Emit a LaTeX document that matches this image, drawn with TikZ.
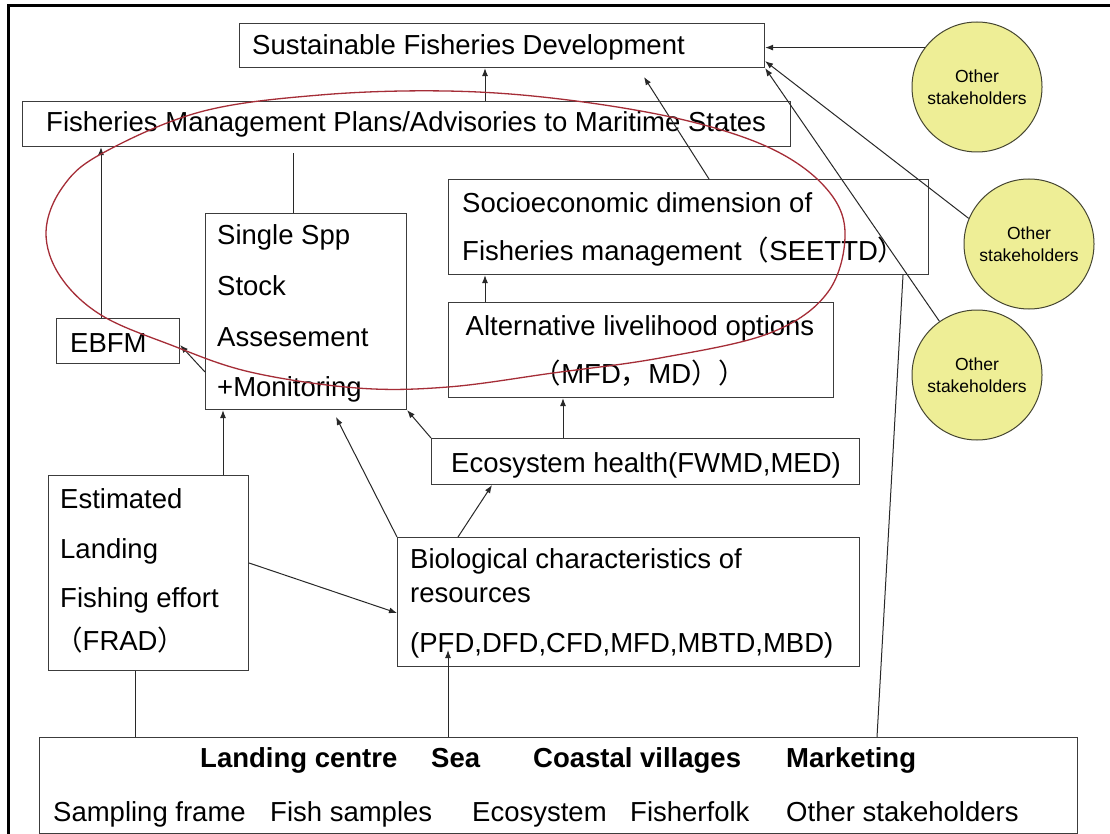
\documentclass[tikz,border=0pt]{standalone}
\usepackage{fontspec}
\setmainfont{Liberation Sans}
\newfontfamily\cjkfont{Noto Sans CJK SC}
\usetikzlibrary{arrows.meta}
\newcommand{\fwlp}{{\cjkfont （}}
\newcommand{\fwrp}{{\cjkfont ）}}
\newcommand{\fwcm}{{\cjkfont ，}}
\definecolor{boxgray}{RGB}{60,60,60}
\definecolor{linegray}{RGB}{40,40,40}
\definecolor{circfill}{RGB}{238,238,150}
\definecolor{circedge}{RGB}{70,70,50}
\definecolor{ellred}{RGB}{165,45,55}
\begin{document}
\begin{tikzpicture}[x=1pt,y=-1pt,
  box/.style={draw=boxgray, line width=1.1pt, inner sep=0pt, anchor=north west},
  lbl/.style={inner sep=0pt, anchor=base west, font=\fontsize{27.5}{33}\selectfont, text=black},
  clbl/.style={lbl, anchor=base},
  blbl/.style={lbl, font=\fontsize{27.5}{33}\selectfont\bfseries},
  conn/.style={draw=linegray, line width=1pt},
  arr/.style={conn, -{Latex[length=8pt,width=6pt]}},
  circ/.style={circle, draw=circedge, fill=circfill, line width=1pt, minimum size=130pt, inner sep=0pt, align=center, font=\fontsize{17.5}{21.5}\selectfont},
  ellip/.style={draw=ellred, line width=1.3pt},
  frame/.style={draw=black, line width=3pt}
]
\useasboundingbox (0,0) rectangle (1110,834);
\fill[white] (0,0) rectangle (1110,834);
\draw[frame] (8,834) -- (8,6) -- (1110,6);

% helper x / y coordinates
\coordinate (x101) at (101,0);
\coordinate (x135) at (135,0);
\coordinate (x223) at (223,0);
\coordinate (x293) at (293,0);
\coordinate (x448) at (448,0);
\coordinate (x458) at (458,0);
\coordinate (x485) at (485,0);
\coordinate (x492) at (492,0);
\coordinate (x563) at (563,0);
\coordinate (x709) at (709,0);
\coordinate (x877) at (877,0);
\coordinate (x903) at (903,0);
\coordinate (y345) at (0,345);
\coordinate (y372) at (0,372);
\coordinate (y563) at (0,563);
\coordinate (y613) at (0,613);
\coordinate (tipsoc) at (644,77);
\coordinate (tipbio) at (336,417);
\coordinate (tipbot) at (448,650);
\coordinate (sspline) at (293,153);

% boxes
\node[box, minimum width=525pt, minimum height=44pt] (sfd) at (239,23) {};
\node[box, minimum width=768pt, minimum height=45pt] (fm) at (22,101) {};
\node[box, minimum width=201pt, minimum height=196pt] (ssp) at (205,213) {};
\node[box, minimum width=123pt, minimum height=45pt] (ebfm) at (56,318) {};
\node[box, minimum width=480pt, minimum height=95pt] (soc) at (448,179) {};
\node[box, minimum width=385pt, minimum height=95pt] (alt) at (448,302) {};
\node[box, minimum width=428pt, minimum height=46pt] (eco) at (431,438) {};
\node[box, minimum width=462pt, minimum height=129pt] (bio) at (397,537) {};
\node[box, minimum width=200pt, minimum height=195pt] (est) at (48,475) {};
\node[box, minimum width=1038pt, minimum height=96pt] (bot) at (39,737) {};

% circles
\node[circ] (c1) at (977,87) {Other\\stakeholders};
\node[circ] (c2) at (1029,244) {Other\\stakeholders};
\node[circ] (c3) at (977,375) {Other\\stakeholders};

% texts
\node[lbl] (tsfd) at (252,55) {Sustainable Fisheries Development};
\node[lbl] (tfm) at (46,132) {Fisheries Management Plans/Advisories to Maritime States};
\node[lbl] (tssp1) at (217,245) {Single Spp};
\node[lbl] (tssp2) at (217,295) {Stock};
\node[lbl] (tssp3) at (217,346) {Assesement};
\node[lbl] (tssp4) at (217,396) {+Monitoring};
\node[lbl] (tebfm) at (70,352) {EBFM};
\node[lbl] (tsoc1) at (462,213) {Socioeconomic dimension of};
\node[lbl] (tsoc2) at (462,260) {Fisheries management\fwlp SEETTD\fwrp};
\node[clbl] (talt1) at (640,335) {Alternative livelihood options};
\node[clbl] (talt2) at (640,383) {\fwlp MFD\fwcm MD\fwrp\fwrp};
\node[lbl] (teco) at (451,472) {Ecosystem health(FWMD,MED)};
\node[lbl] (tbio1) at (410,568) {Biological characteristics of};
\node[lbl] (tbio2) at (410,602) {resources};
\node[lbl] (tbio3) at (410,652) {(PFD,DFD,CFD,MFD,MBTD,MBD)};
\node[lbl] (test1) at (60,508) {Estimated};
\node[lbl] (test2) at (60,558) {Landing};
\node[lbl] (test3) at (60,607) {Fishing effort};
\node[lbl] (test4) at (55,650) {\fwlp FRAD\fwrp};
\node[blbl] (tb1) at (200,767) {Landing centre};
\node[blbl] (tb2) at (431,767) {Sea};
\node[blbl] (tb3) at (533,767) {Coastal villages};
\node[blbl] (tb4) at (786,767) {Marketing};
\node[lbl] (tc1) at (53,821) {Sampling frame};
\node[lbl] (tc2) at (270,821) {Fish samples};
\node[lbl] (tc3) at (472,821) {Ecosystem};
\node[lbl] (tc4) at (630,821) {Fisherfolk};
\node[lbl] (tc5) at (786,821) {Other stakeholders};

% connectors
\draw[arr] (fm.north -| x485) -- (sfd.south -| x485);
\draw[arr] (c1.143) -- (sfd.east |- c1.143);
\draw[arr] (c2.157) -- ([yshift=7pt]sfd.south east);
\draw[arr] (c3.125) -- (sfd.south east);
\draw[arr] (soc.north -| x709) -- (tipsoc);
\draw[conn] (bot.north -| x877) -- (soc.south -| x903);
\draw[conn] (ssp.north -| x293) -- (sspline);
\draw[arr] (ebfm.north -| x101) -- (fm.south -| x101);
\draw[arr] (ssp.west |- y372) -- (ebfm.east |- y345);
\draw[arr] (alt.north -| x485) -- (soc.south -| x485);
\draw[arr] (eco.north -| x563) -- (alt.south -| x563);
\draw[arr] (eco.north west) -- (ssp.south east);
\draw[arr] (bio.north west) -- (tipbio);
\draw[arr] (bio.north -| x458) -- (eco.south -| x492);
\draw[arr] (est.north -| x223) -- (ssp.south -| x223);
\draw[arr] (est.east |- y563) -- (bio.west |- y613);
\draw[conn] (bot.north -| x135) -- (est.south -| x135);
\draw[arr] (bot.north -| x448) -- (tipbot);

% red ellipse
\draw[ellip] plot[smooth cycle, tension=0.6] coordinates {(46,232) (62,188) (101,154) (200,112) (320,95) (446,91) (560,99) (680,119) (770,148) (825,187) (845,232) (828,292) (770,333) (660,358) (553,373) (448,387) (357,388) (250,372) (171,345) (101,315) (60,276)};
\end{tikzpicture}
\end{document}
